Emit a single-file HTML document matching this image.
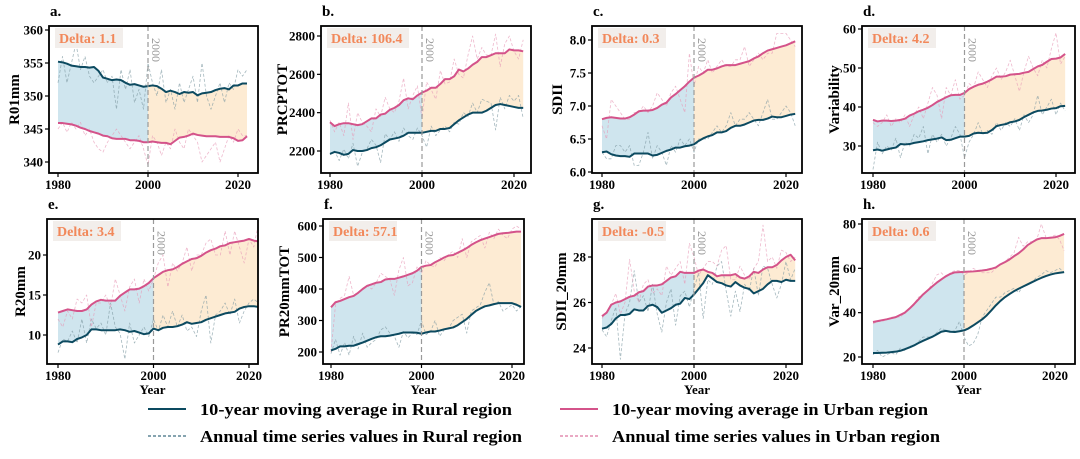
<!DOCTYPE html>
<html><head><meta charset="utf-8">
<style>
body{margin:0;background:#fff;}
svg{display:block;font-family:"Liberation Serif",serif;}
</style></head>
<body>
<svg id="fig" width="1080" height="459" viewBox="0 0 1080 459" xmlns="http://www.w3.org/2000/svg"></svg>
<script>
const years=[];for(let y=1980;y<=2022;y++)years.push(y);
const splitYear=2000;
// ---- panel a: R01mm ----
const aRuralMA=[355.2,355.1,354.9,354.6,354.5,354.4,354.4,354.3,354.4,353.8,352.8,352.6,352.4,352.5,352.4,352.0,351.7,351.8,351.6,351.4,351.5,351.6,351.5,351.1,350.6,350.8,350.6,350.3,350.6,350.5,350.6,350.1,350.4,350.5,350.6,350.9,351.1,351.2,351.0,351.6,351.6,351.9,351.9];
const aUrbanMA=[345.9,345.9,345.8,345.7,345.5,345.2,345.0,344.7,344.5,344.3,344.0,343.9,343.6,343.5,343.5,343.5,343.3,343.3,343.2,343.0,343.0,343.1,343.0,342.9,342.9,342.7,343.2,343.7,343.8,344.0,344.3,344.1,344.0,343.9,343.9,343.9,343.8,343.8,343.8,343.6,343.2,343.3,343.9];
const aRuralAnn=[352,356,352,355,358,354,356,353,352,353,354,352,353,348,354,351,354,349,351,348,355,352,350,354,349,351,348,352,349,351,353,349,355,350,348,350,352,349,352,351,354,353,354];
const aUrbanAnn=[345,346,344.5,346,345,346,344,345,343,342,341.5,343,344,345,344,343,342,343,344,342,339.5,344,343,341,343,342,345,343,342,345,344,343,340,341,342,343,340,342,344,343,345,344,344];
// ---- panel b: PRCPTOT ----
const bRuralMA=[2185,2195,2190,2180,2185,2205,2200,2200,2205,2215,2220,2230,2245,2260,2265,2270,2280,2295,2295,2295,2295,2300,2305,2305,2315,2315,2320,2340,2360,2375,2390,2400,2400,2400,2410,2425,2440,2445,2440,2435,2430,2425,2425];
const bUrbanMA=[2350,2330,2340,2345,2345,2340,2335,2340,2355,2370,2370,2390,2395,2415,2425,2440,2465,2475,2470,2490,2505,2515,2530,2530,2550,2575,2575,2590,2625,2615,2630,2650,2665,2690,2690,2700,2710,2710,2710,2730,2725,2725,2720];
const bRuralAnn=[2180,2200,2150,2210,2160,2240,2120,2190,2210,2260,2230,2140,2290,2260,2300,2250,2320,2280,2260,2320,2280,2220,2330,2280,2310,2330,2300,2350,2340,2400,2380,2450,2400,2470,2460,2450,2310,2480,2420,2490,2460,2490,2370];
const bUrbanAnn=[2360,2300,2350,2280,2450,2260,2400,2350,2330,2300,2420,2380,2480,2420,2400,2460,2580,2420,2490,2540,2370,2560,2520,2470,2620,2550,2560,2680,2600,2580,2700,2800,2680,2740,2700,2700,2810,2640,2760,2800,2720,2680,2780];
// ---- panel c: SDII ----
const cRuralMA=[6.30,6.31,6.27,6.25,6.24,6.24,6.23,6.28,6.28,6.28,6.28,6.25,6.26,6.29,6.32,6.34,6.37,6.37,6.39,6.40,6.42,6.47,6.51,6.54,6.56,6.60,6.60,6.62,6.67,6.70,6.70,6.72,6.75,6.78,6.79,6.79,6.81,6.84,6.83,6.83,6.85,6.87,6.88];
const cUrbanMA=[6.80,6.82,6.83,6.82,6.81,6.81,6.83,6.87,6.92,6.93,6.93,6.94,6.97,7.02,7.05,7.13,7.18,7.24,7.30,7.37,7.43,7.46,7.50,7.55,7.55,7.57,7.60,7.62,7.62,7.62,7.64,7.66,7.68,7.72,7.75,7.80,7.84,7.86,7.88,7.90,7.92,7.95,7.98];
const cRuralAnn=[6.3,6.2,6.2,6.4,6.4,6.3,6.4,6.1,6.1,6.3,6.6,6.2,6.4,6.3,6.1,6.4,6.3,6.5,6.4,6.5,6.3,6.5,6.5,6.5,6.6,6.7,6.6,6.7,6.9,6.7,6.8,6.8,6.9,6.8,6.7,6.9,7.1,6.8,6.8,6.9,7.0,6.9,6.7];
const cUrbanAnn=[6.7,6.5,7.1,7.0,6.9,6.8,6.8,6.9,6.9,7.0,6.9,7.0,7.2,7.1,7.0,7.2,7.3,7.1,6.9,7.8,7.3,7.6,7.5,7.7,7.5,7.6,7.7,7.6,7.6,7.7,7.7,7.9,7.6,7.7,7.8,7.7,7.8,7.8,8.1,8.1,8.1,8.0,7.9];
// ---- panel d: Variability ----
const dRuralMA=[28.9,29.1,28.8,29.1,29.4,29.6,30.5,30.4,30.5,30.8,31.0,31.2,31.5,31.7,31.9,32.2,31.5,31.6,32.0,32.4,32.4,32.6,33.2,33.4,33.3,33.4,34.1,35.1,35.4,35.6,36.1,36.3,36.7,37.4,38.0,38.6,39.0,39.1,39.3,39.6,39.7,40.2,40.3];
const dUrbanMA=[36.7,36.3,36.5,36.5,36.4,36.5,36.7,37.0,37.8,38.3,38.9,39.3,39.8,40.5,41.3,41.9,42.5,43.0,43.1,43.1,43.6,44.6,45.2,45.7,46.0,46.5,47.1,47.8,47.8,47.9,48.3,48.4,48.5,48.8,49.0,49.7,50.4,50.8,51.6,52.3,52.4,52.7,53.6];
const dRuralAnn=[24,31,28,30,29,32,27,31,30,33,32,35,28,33,31,33,30,32,35,33,27,31,33,36,33,34,33,36,34,36,35,37,34,38,36,38,43,38,40,42,38,41,39];
const dUrbanAnn=[36,35,36,38,35,37,36,38,35,38,40,37,41,45,43,37,45,43,47,42,43,46,45,49,47,45,48,50,47,49,52,48,44,49,53,50,48,52,50,55,59,51,53];
// ---- panel e: R20mm ----
const eRuralMA=[8.8,9.2,9.2,9.1,9.5,9.7,10.0,10.7,10.7,10.6,10.6,10.6,10.6,10.7,10.6,10.4,10.5,10.3,10.1,10.2,10.8,10.6,10.9,11.0,11.0,11.1,11.3,11.6,11.4,11.5,11.6,11.9,12.1,12.3,12.5,12.7,12.8,12.9,13.3,13.5,13.6,13.6,13.5];
const eUrbanMA=[12.8,13.0,13.2,13.1,13.0,13.0,13.2,13.8,14.2,14.4,14.3,14.3,14.3,14.9,15.3,15.7,15.7,15.8,16.1,16.5,17.1,17.5,17.9,18.1,18.2,18.5,18.9,19.2,19.5,19.6,19.9,20.3,20.6,20.8,21.1,21.2,21.5,21.6,21.7,21.8,22.0,21.8,21.7];
const eRuralAnn=[7.8,9.5,9.2,10.5,9.0,12.0,9.0,12.0,10.8,11.5,10.0,14.0,11.0,10.2,7.0,11.5,9.0,10.0,11.0,9.8,12.0,10.5,12.5,11.0,13.0,11.0,12.5,10.5,11.0,9.8,13.0,15.0,9.0,12.5,13.0,14.0,12.5,14.5,11.5,13.0,14.0,14.5,14.0];
const eUrbanAnn=[12,11,13,12,14.5,14,15,11,14,14,15,13.5,17,15,13,16,17,14,17,15.5,17,19,20,16,19,18,19,21,18,20,20,21.5,22,20,20,23,20,23,21,19,22,21,24];
// ---- panel f: PR20mmTOT ----
const fRuralMA=[205,210,218,218,220,220,225,230,236,242,247,250,250,252,255,258,262,262,262,261,258,262,265,265,268,272,275,278,285,295,305,318,330,338,345,348,352,355,355,355,355,350,343];
const fUrbanMA=[342,358,362,368,374,378,388,400,410,415,420,422,430,432,432,436,440,445,450,458,470,474,476,485,492,500,506,508,515,522,530,540,548,555,560,565,570,575,577,578,580,582,582];
const fRuralAnn=[195,240,190,230,190,250,210,260,215,230,240,270,280,260,250,215,265,245,260,255,300,255,265,300,250,270,275,300,310,320,260,330,340,350,390,420,350,360,330,340,350,330,345];
const fUrbanAnn=[200,350,370,380,440,380,390,400,410,400,420,450,440,430,380,460,500,410,420,470,450,490,475,470,500,490,510,520,500,560,500,550,560,570,530,580,560,590,570,560,590,600,590];
// ---- panel g: SDII_20mm ----
const gRuralMA=[24.85,24.9,25.05,25.3,25.45,25.45,25.5,25.7,25.65,25.65,25.85,25.9,25.8,25.55,25.65,25.75,25.9,25.95,26.2,26.15,26.35,26.6,26.85,27.2,27.05,26.9,26.85,26.75,26.7,26.9,26.75,26.65,26.6,26.4,26.5,26.6,26.8,26.95,26.95,26.9,27.0,26.95,26.95];
const gUrbanMA=[25.4,25.55,25.9,26.0,26.05,26.15,26.25,26.3,26.45,26.5,26.7,26.75,26.75,26.8,26.95,27.1,27.15,27.35,27.3,27.3,27.3,27.4,27.45,27.35,27.3,27.15,27.2,27.2,27.2,27.25,27.1,27.05,27.15,27.35,27.3,27.45,27.55,27.55,27.65,27.85,28.0,28.1,27.85];
const gRuralAnn=[24.8,24.5,25.2,25.8,23.5,25.5,26.0,27.4,26.0,26.3,25.6,26.8,25.5,24.7,26.0,26.6,25.0,26.3,26.5,25.8,26.6,27.3,25.3,27.0,26.8,27.6,27.8,26.5,25.4,26.5,25.6,26.8,26.5,27.5,26.3,27.6,27.5,26.8,26.2,26.8,27.8,27.0,27.5];
const gUrbanAnn=[25.3,25.6,25.9,26.4,25.5,26.0,27.9,26.5,26.0,26.8,27.0,26.4,26.6,26.3,27.6,27.2,27.5,27.8,26.8,28.6,28.0,27.2,27.5,27.8,27.8,27.6,28.3,28.5,27.0,27.0,27.6,27.2,27.0,27.5,27.8,29.4,27.8,28.0,27.5,28.3,28.2,27.8,28.0];
// ---- panel h: Var_20mm ----
const hRuralMA=[21.8,21.8,21.9,22.0,22.2,22.4,22.8,23.5,24.3,25.2,26.3,27.3,28.2,29.1,30.2,31.4,31.8,31.4,31.3,31.6,32.0,32.9,34.2,35.6,37.0,38.8,41.0,43.3,45.3,47.0,48.4,49.7,50.8,51.8,52.8,53.8,54.8,55.7,56.5,57.2,57.7,58.0,58.3];
const hUrbanMA=[35.8,36.2,36.6,37.0,37.5,38.0,39.0,40.0,41.8,43.8,46.0,48.2,50.0,51.8,53.5,55.0,56.4,57.5,58.2,58.3,58.4,58.5,58.6,58.8,59.0,59.3,59.8,60.4,61.8,62.8,64.0,65.5,66.8,68.5,70.5,71.8,73.0,73.6,73.6,73.8,74.0,74.6,75.5];
const hRuralAnn=[21,23,20,21,22,21,24,23,25,25,27,29,29,29,31,33,32,31,32,36,29,25,26,30,38,41,44,47,47,49,50,51,49,52,53,54,56,57,59,58,59,60,58];
const hUrbanAnn=[35,36,36,37,38,38,38,40,42,44,47,48,50,53,57,58,56,58,59,59,57,58,60,59,58,58,58,60,62,63,65,67,74,70,72,72,73,80,74,74,75,73,68];

const deltas=["1.1","106.4","0.3","4.2","3.4","57.1","-0.5","0.6"];
const yLabels=["R01mm","PRCPTOT","SDII","Variability","R20mm","PR20mmTOT","SDII_20mm","Var_20mm"];
const letters=["a.","b.","c.","d.","e.","f.","g.","h."];
const xTicks=[1980,2000,2020];
const yTicksA=[340,345,350,355,360];
const yTicksB=[2200,2400,2600,2800];
const yTicksC=[6.0,6.5,7.0,7.5,8.0];
const yTicksD=[30,40,50,60];
const yTicksE=[10,15,20];
const yTicksF=[200,300,400,500,600];
const yTicksG=[24,26,28];
const yTicksH=[20,40,60,80];

const layout=[
 {L:49,R:258,T:26,B:173,x0:58,x1:238,v1:340,p1:162,v2:360,p2:30,lx:13,dec:0},
 {L:321,R:531,T:26,B:173,x0:330,x1:514,v1:2200,p1:151,v2:2800,p2:36,lx:281,dec:0},
 {L:592,R:802,T:26,B:173,x0:602,x1:786,v1:6.0,p1:172,v2:8.0,p2:40,lx:556,dec:1},
 {L:862,R:1075,T:26,B:173,x0:873,x1:1056,v1:30,p1:146,v2:60,p2:29,lx:833,dec:0},
 {L:47,R:258,T:219,B:364,x0:58,x1:249,v1:10,p1:335,v2:20,p2:255,lx:19,dec:0},
 {L:323,R:524,T:219,B:364,x0:331,x1:512,v1:200,p1:352,v2:600,p2:226,lx:283,dec:0},
 {L:592,R:802,T:219,B:364,x0:602,x1:786,v1:24,p1:348,v2:28,p2:257,lx:560,dec:0},
 {L:862,R:1075,T:219,B:364,x0:873,x1:1055,v1:20,p1:357,v2:80,p2:224,lx:833,dec:0}
];
const series=[
 [aRuralMA,aUrbanMA,aRuralAnn,aUrbanAnn],[bRuralMA,bUrbanMA,bRuralAnn,bUrbanAnn],
 [cRuralMA,cUrbanMA,cRuralAnn,cUrbanAnn],[dRuralMA,dUrbanMA,dRuralAnn,dUrbanAnn],
 [eRuralMA,eUrbanMA,eRuralAnn,eUrbanAnn],[fRuralMA,fUrbanMA,fRuralAnn,fUrbanAnn],
 [gRuralMA,gUrbanMA,gRuralAnn,gUrbanAnn],[hRuralMA,hUrbanMA,hRuralAnn,hUrbanAnn]];
const ticksAll=[yTicksA,yTicksB,yTicksC,yTicksD,yTicksE,yTicksF,yTicksG,yTicksH];

const NS="http://www.w3.org/2000/svg";
const svg=document.getElementById('fig');
function mk(tag,attrs,parent){const e=document.createElementNS(NS,tag);for(const k in attrs)e.setAttribute(k,attrs[k]);(parent||svg).appendChild(e);return e;}
const RURAL="#0c4a60",URBAN="#d4538a";

layout.forEach((g,i)=>{
  const grp=mk('g',{});
  
  
  const clipId='clip'+i;
  const cp=mk('clipPath',{id:clipId},grp);mk('rect',{x:g.L,y:g.T,width:g.R-g.L,height:g.B-g.T},cp);
  const xs=y=>g.x0+(y-1980)*(g.x1-g.x0)/40;
  const ys=v=>g.p1+(v-g.v1)*(g.p2-g.p1)/(g.v2-g.v1);
  const [rMA,uMA,rAn,uAn]=series[i];
  const plot=mk('g',{'clip-path':'url(#'+clipId+')'},grp);
  function band(from,to,color,name){
    let top=[],bot=[];
    years.forEach((y,k)=>{if(y>=from&&y<=to){top.push(xs(y)+','+ys(uMA[k]));bot.unshift(xs(y)+','+ys(rMA[k]));}});
    const p=mk('polygon',{points:top.concat(bot).join(' '),fill:color,stroke:'none'},plot);
    
    
  }
  band(1980,splitYear,'#cfe5ee','fill-before-2000');
  band(splitYear,2022,'#fdebd3','fill-after-2000');
  function line(arr,color,w,dash,name,op){
    const pts=years.map((y,k)=>xs(y)+','+ys(arr[k])).join(' ');
    const a={points:pts,fill:'none',stroke:color,'stroke-width':w,'stroke-linejoin':'round',opacity:op};
    if(dash)a['stroke-dasharray']=dash;
    const p=mk('polyline',a,plot);
    
    
  }
  line(rAn,'#7f9aa3',0.8,'3,2','rural-annual-line',0.7);
  line(uAn,'#e79ab6',0.8,'3,2','urban-annual-line',0.7);
  line(rMA,RURAL,2,null,'rural-moving-average-line',1);
  line(uMA,URBAN,2,null,'urban-moving-average-line',1);
  const vx=xs(splitYear);
  const vl=mk('line',{x1:vx,x2:vx,y1:g.T,y2:g.B,stroke:'#9a9a9a','stroke-width':1.2,'stroke-dasharray':'5,3'},grp);
  
  
  const vt=mk('text',{x:0,y:0,transform:'translate('+(vx+4)+','+(g.T+12)+') rotate(90)','font-size':12,fill:'#999'},grp);
  vt.textContent='2000';
  
  
  const db=mk('rect',{x:g.L+6,y:g.T+2,width:(deltas[i].length>4?82:68),height:20,fill:'#f2eeeb'},grp);
  
  
  const dt=mk('text',{x:g.L+10,y:g.T+17,'font-size':14,'font-weight':'bold',fill:'#f2885a'},grp);
  dt.textContent='Delta: '+deltas[i];
  
  
  const fr=mk('rect',{x:g.L,y:g.T,width:g.R-g.L,height:g.B-g.T,fill:'none',stroke:'#000','stroke-width':1.8},grp);
  
  
  xTicks.forEach(t=>{
    const x=xs(t);
    mk('line',{x1:x,x2:x,y1:g.B,y2:g.B+4,stroke:'#000','stroke-width':1.2},grp);
    const tt=mk('text',{x:x,y:g.B+16,'font-size':13,'font-weight':'bold','text-anchor':'middle'},grp);
    tt.textContent=t;
    
    
  });
  ticksAll[i].forEach(t=>{
    const y=ys(t);
    mk('line',{x1:g.L-4,x2:g.L,y1:y,y2:y,stroke:'#000','stroke-width':1.2},grp);
    const tt=mk('text',{x:g.L-6,y:y+4.5,'font-size':13,'font-weight':'bold','text-anchor':'end'},grp);
    tt.textContent=t.toFixed(g.dec);
    
    
  });
  const yl=mk('text',{x:0,y:0,transform:'translate('+(g.lx+6)+','+((g.T+g.B)/2)+') rotate(-90)','font-size':15,'font-weight':'bold','text-anchor':'middle'},grp);
  yl.textContent=yLabels[i];
  
  
  const lt=mk('text',{x:g.L+1,y:g.T-10,'font-size':15,'font-weight':'bold'},grp);
  lt.textContent=letters[i];
  
  
  if(i>=4){
    const xl=mk('text',{x:(g.L+g.R)/2,y:g.B+30,'font-size':13,'font-weight':'bold','text-anchor':'middle'},grp);
    xl.textContent='Year';
    
    
  }
});
const leg=mk('g',{});


const entries=[
 {lx:148,tx:200,y:409,c:RURAL,d:null,w:2,tl:312,t:'10-year moving average in Rural region'},
 {lx:560,tx:612,y:409,c:URBAN,d:null,w:2,tl:316,t:'10-year moving average in Urban region'},
 {lx:148,tx:200,y:436,c:RURAL,d:'3,2',w:1,tl:322,t:'Annual time series values in Rural region'},
 {lx:560,tx:612,y:436,c:URBAN,d:'3,2',w:1,tl:328,t:'Annual time series values in Urban region'}];
entries.forEach(e=>{
  const g=mk('g',{},leg);
  
  
  const a={x1:e.lx,x2:e.lx+38,y1:e.y,y2:e.y,stroke:e.c,'stroke-width':e.w};
  if(e.d)a['stroke-dasharray']=e.d;
  mk('line',a,g);
  const t=mk('text',{x:e.tx,y:e.y+6,'font-size':17,'font-weight':'bold',textLength:e.tl,lengthAdjust:'spacingAndGlyphs'},g);
  t.textContent=e.t;
});
</script>
</body></html>
